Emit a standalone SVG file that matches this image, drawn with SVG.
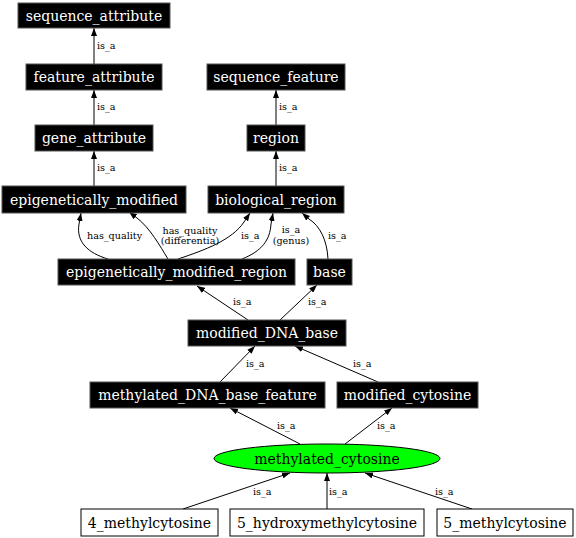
<svg xmlns="http://www.w3.org/2000/svg" width="576" height="538" viewBox="0 0 576 538">
<defs>
<marker id="arr" markerUnits="userSpaceOnUse" markerWidth="8" markerHeight="6" refX="8" refY="3" orient="auto">
<path d="M0,0 L8,3 L0,6 z" fill="#000"/>
</marker>
<style>
.b rect{fill:#000;stroke:#555;stroke-width:1}
.b text{fill:#fff}
.w rect{fill:#fff;stroke:#000;stroke-width:1}
text{font-family:"DejaVu Serif",serif;font-size:14px;text-anchor:middle}
.e path{fill:none;stroke:#000;stroke-width:1;marker-end:url(#arr)}
.e text{font-size:9.6px;text-anchor:start}
.e text.c{text-anchor:middle}
</style>
</defs>
<rect width="576" height="538" fill="#fff"/>
<g class="e" id="edges">
<path d="M94,64 L94,28"/><text x="97" y="49">is_a</text>
<path d="M94,125 L94,90"/><text x="97" y="110">is_a</text>
<path d="M94,186 L94,151"/><text x="97" y="171">is_a</text>
<path d="M276,125 L276,90"/><text x="279" y="110">is_a</text>
<path d="M276,186 L276,151"/><text x="279" y="171">is_a</text>
<path d="M108,259 C88,253 76,242 79,224 L81,213"/><text x="87" y="239">has_quality</text>
<path d="M168,259 C160,246 150,228 137,218 L129,212"/><text class="c" x="190" y="234">has_quality</text><text class="c" x="190" y="244">(differentia)</text>
<path d="M178,259 C205,250 232,240 244,222 L250,213"/><text x="241" y="239">is_a</text>
<path d="M242,259 C262,251 270,240 271,224 L273,213"/><text class="c" x="291" y="233">is_a</text><text class="c" x="291" y="244">(genus)</text>
<path d="M328,259 C327,240 320,226 309,219 L302,213"/><text x="328" y="239">is_a</text>
<path d="M248,320 L197,286"/><text x="233" y="305">is_a</text>
<path d="M280,320 L317,285"/><text x="308" y="305">is_a</text>
<path d="M220,382 L255,346"/><text x="246" y="367">is_a</text>
<path d="M378,382 L295,346"/><text x="353" y="367">is_a</text>
<path d="M300,444 L230,408"/><text x="277" y="429">is_a</text>
<path d="M345,444 L392,408"/><text x="377" y="429">is_a</text>
<path d="M183,509 L290,473"/><text x="253" y="495">is_a</text>
<path d="M327,509 L327,473"/><text x="329" y="495">is_a</text>
<path d="M472,509 L365,473"/><text x="435" y="495">is_a</text>
</g>
<g class="b" id="sequence_attribute"><rect x="18" y="3" width="152" height="25"/><text x="94" y="20.5">sequence_attribute</text></g>
<g class="b" id="feature_attribute"><rect x="26" y="64" width="136" height="26"/><text x="94" y="82">feature_attribute</text></g>
<g class="b" id="gene_attribute"><rect x="35" y="125" width="118" height="26"/><text x="94" y="143">gene_attribute</text></g>
<g class="b" id="epigenetically_modified"><rect x="2" y="186" width="184" height="27"/><text x="94" y="204.5">epigenetically_modified</text></g>
<g class="b" id="sequence_feature"><rect x="207" y="64" width="138" height="26"/><text x="276" y="82">sequence_feature</text></g>
<g class="b" id="region"><rect x="247" y="125" width="58" height="26"/><text x="276" y="143">region</text></g>
<g class="b" id="biological_region"><rect x="208" y="186" width="136" height="27"/><text x="276" y="204.5">biological_region</text></g>
<g class="b" id="epigenetically_modified_region"><rect x="58" y="259" width="237" height="26"/><text x="176.5" y="277">epigenetically_modified_region</text></g>
<g class="b" id="base"><rect x="307" y="259" width="45" height="26"/><text x="329.5" y="277">base</text></g>
<g class="b" id="modified_DNA_base"><rect x="188" y="320" width="158" height="26"/><text x="267" y="338">modified_DNA_base</text></g>
<g class="b" id="methylated_DNA_base_feature"><rect x="90" y="382" width="235" height="26"/><text x="207.5" y="400">methylated_DNA_base_feature</text></g>
<g class="b" id="modified_cytosine"><rect x="337" y="382" width="141" height="26"/><text x="407.5" y="400">modified_cytosine</text></g>
<g id="methylated_cytosine"><ellipse cx="327" cy="458.5" rx="113" ry="14.5" fill="#00ff00" stroke="#000"/><text x="327" y="463.5">methylated_cytosine</text></g>
<g class="w" id="n4_methylcytosine"><rect x="81" y="509" width="137" height="27"/><text x="149.5" y="527.5">4_methylcytosine</text></g>
<g class="w" id="n5_hydroxymethylcytosine"><rect x="230" y="509" width="194" height="27"/><text x="327" y="527.5">5_hydroxymethylcytosine</text></g>
<g class="w" id="n5_methylcytosine"><rect x="437" y="509" width="136" height="27"/><text x="505" y="527.5">5_methylcytosine</text></g>
</svg>
